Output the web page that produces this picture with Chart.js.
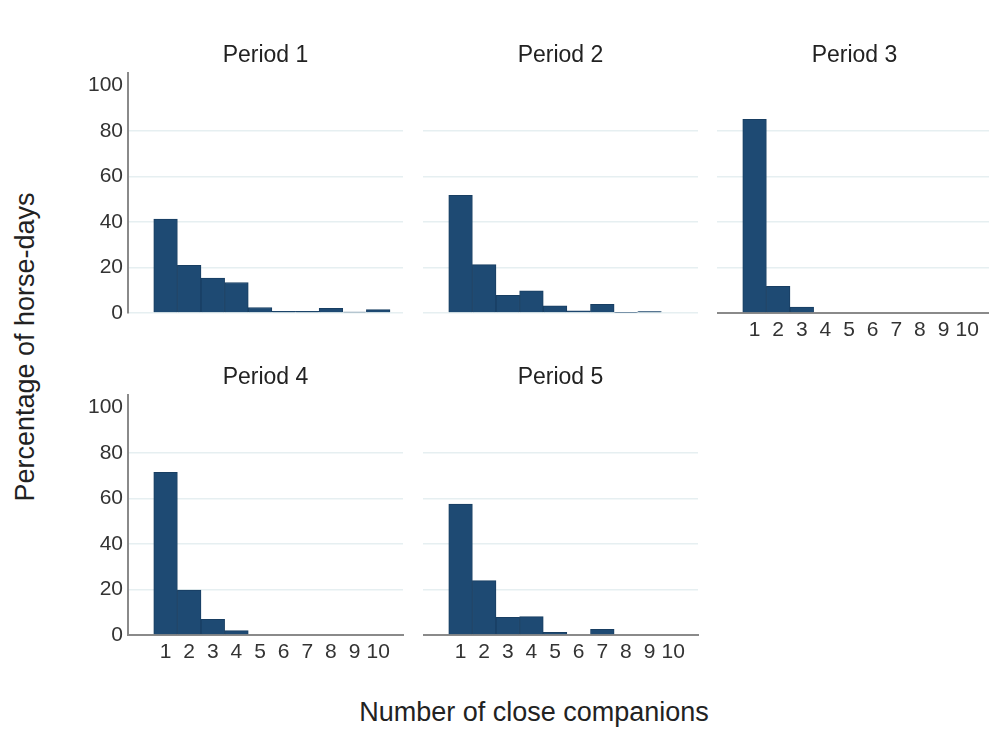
<!DOCTYPE html>
<html>
<head>
<meta charset="utf-8">
<script src="https://cdn.jsdelivr.net/npm/chart.js@4"></script>
<style>
  html, body { margin: 0; padding: 0; background: #fff; overflow: hidden; }
  body { width: 989px; height: 733px; position: relative; font-family: "Liberation Sans", Arial, sans-serif; }
  canvas { position: absolute; }
  .axis-title { position: absolute; font-size: 27px; color: #222; white-space: nowrap; }
  #xTitle { left: 534px; top: 712px; transform: translate(-50%, -50%); }
  #yTitle { left: 25px; top: 347px; transform: translate(-50%, -50%) rotate(-90deg); }
</style>
</head>
<body>
<canvas id="p1"></canvas>
<canvas id="p2"></canvas>
<canvas id="p3"></canvas>
<canvas id="p4"></canvas>
<canvas id="p5"></canvas>
<div id="xTitle" class="axis-title">Number of close companions</div>
<div id="yTitle" class="axis-title">Percentage of horse-days</div>

<script>
// =========================
// データ
// =========================
const companions = [1, 2, 3, 4, 5, 6, 7, 8, 9, 10];
const periodNames = ["Period 1", "Period 2", "Period 3", "Period 4", "Period 5"];
const yTicks = [0, 20, 40, 60, 80, 100];

const period1 = [41.3, 21.0, 15.4, 13.4, 2.4, 0.7, 0.7, 2.0, 0.4, 1.5];
const period2 = [51.7, 21.3, 7.8, 9.7, 3.1, 0.9, 3.8, 0.3, 0.6, 0];
const period3 = [85.1, 11.7, 2.6, 0, 0, 0, 0, 0, 0, 0];
const period4 = [71.5, 19.8, 6.9, 1.9, 0, 0, 0, 0, 0, 0];
const period5 = [57.6, 23.9, 7.8, 8.1, 1.2, 0, 2.5, 0, 0, 0];

// =========================
// パネル配置
// =========================
const FONT = '"Liberation Sans", Arial, sans-serif';
const BAR = "#1e4a73";
const GRID = "#e6eff1";
const AXIS = "#8a8a8a";

// L/R: plot left/right, top: plot top, y0: pixel of zero, titleY: title centre
const panels = [
  { id: "p1", values: period1, L: 128, R: 403, top: 73, y0: 313, titleY: 56, yLabels: true, xLabels: false },
  { id: "p2", values: period2, L: 423, R: 698, top: 73, y0: 313, titleY: 56, yLabels: false, xLabels: false },
  { id: "p3", values: period3, L: 717, R: 992, top: 73, y0: 313, titleY: 56, yLabels: false, xLabels: true },
  { id: "p4", values: period4, L: 128, R: 403, top: 395, y0: 635, titleY: 378, yLabels: true, xLabels: true },
  { id: "p5", values: period5, L: 423, R: 698, top: 395, y0: 635, titleY: 378, yLabels: false, xLabels: true },
];

function drawPanel(p, i) {
  const canvas = document.getElementById(p.id);
  const yW = p.yLabels ? 60 : 0;
  const xH = 40;
  const left = p.L - yW;
  const top = p.titleY - 20;
  // 右側にも yW 分の空き軸を置き、タイトルをプロット中央に揃える
  canvas.width = p.R - left + 2 + yW;
  canvas.height = p.y0 - top + xH;
  canvas.style.left = left + "px";
  canvas.style.top = top + "px";

  new Chart(canvas, {
    type: "bar",
    data: {
      datasets: [
        {
          data: companions.map((c, k) => ({ x: c, y: p.values[k] })),
          backgroundColor: BAR,
          borderColor: "#183e62",
          borderWidth: 1,
          borderSkipped: "start",
          barPercentage: 1,
          categoryPercentage: 1,
        },
      ],
    },
    options: {
      responsive: false,
      animation: false,
      devicePixelRatio: 1,
      layout: { padding: { left: 0, right: 2, top: 0, bottom: 0 } },
      plugins: {
        legend: { display: false },
        tooltip: { enabled: false },
        title: {
          display: true,
          text: periodNames[i],
          color: "#222",
          font: { family: FONT, size: 23, weight: "normal", lineHeight: 1.2 },
          padding: { top: 6, bottom: (p.top - top) - 6 - 27.6 },
        },
      },
      scales: {
        x: {
          type: "linear",
          offset: false,
          min: -0.59,
          max: 11.05,
          afterBuildTicks: (s) => { s.ticks = companions.map((v) => ({ value: v })); },
          afterFit: (s) => { s.height = xH; },
          grid: { display: false, drawTicks: false },
          border: { display: p.xLabels, color: AXIS, width: 2 },
          ticks: {
            display: p.xLabels,
            autoSkip: false,
            maxRotation: 0,
            padding: 5,
            color: "#333",
            font: { family: FONT, size: 21 },
          },
        },
        y: {
          min: 0,
          max: 105.5,
          afterBuildTicks: (s) => { s.ticks = yTicks.map((v) => ({ value: v })); },
          afterFit: (s) => { s.width = yW; },
          grid: {
            drawTicks: false,
            lineWidth: 1.5,
            color: (ctx) => (ctx.tick && ctx.tick.value === 100 ? "rgba(0,0,0,0)" : GRID),
          },
          border: { display: p.yLabels, color: AXIS, width: 2 },
          ticks: {
            display: p.yLabels,
            padding: 5,
            color: "#333",
            font: { family: FONT, size: 21 },
          },
        },
        yPad: {
          type: "linear",
          position: "right",
          display: true,
          afterFit: (s) => { s.width = yW; },
          grid: { display: false, drawTicks: false },
          border: { display: false },
          ticks: { display: false },
        },
      },
    },
  });
}

panels.forEach(drawPanel);
</script>
</body>
</html>
